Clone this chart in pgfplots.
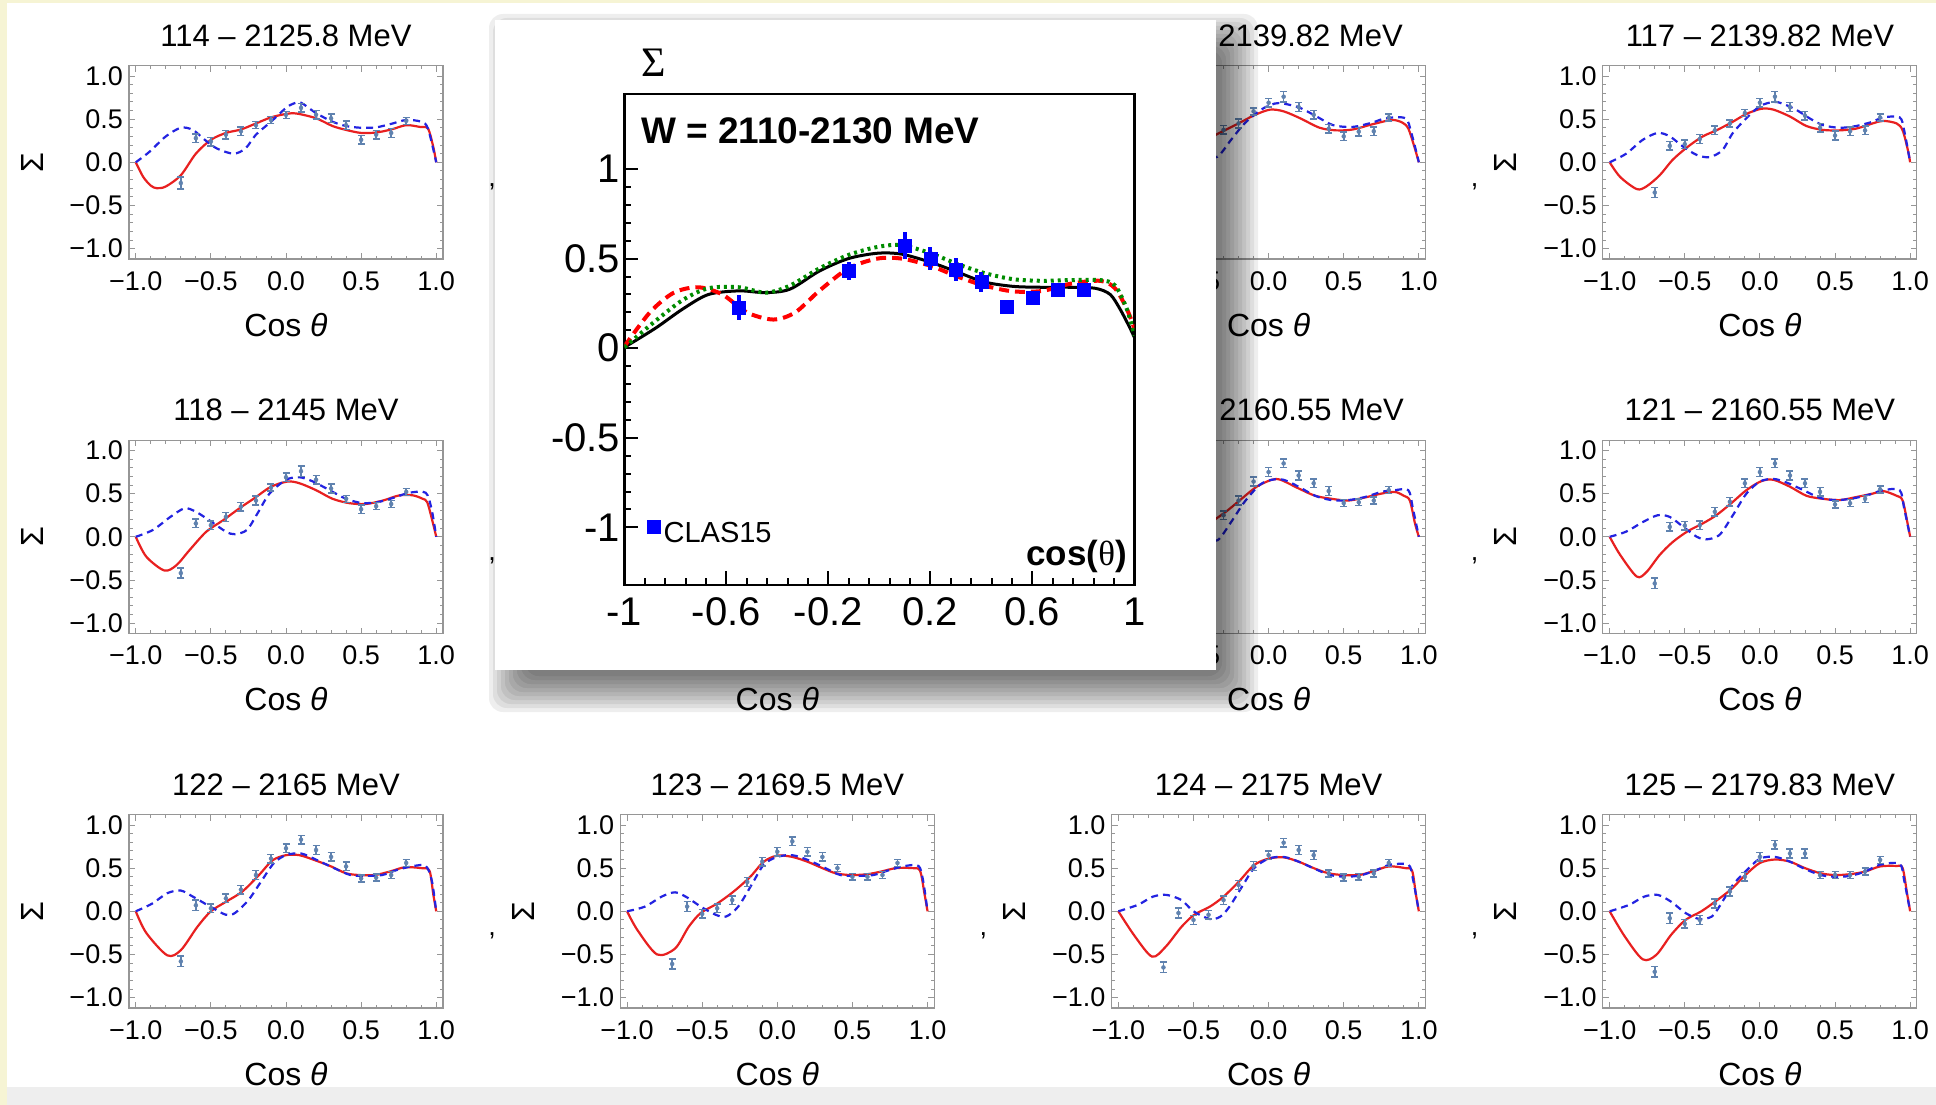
\documentclass[border=0pt]{standalone}
\usepackage{fontspec}
\setmainfont{Liberation Sans}
\newfontfamily\serif{Liberation Serif}
\usepackage{pgfplots}
\pgfplotsset{compat=1.18}
\definecolor{framegray}{RGB}{150,150,150}
\definecolor{mred}{RGB}{232,32,32}
\definecolor{mblue}{RGB}{35,35,225}
\definecolor{ptcol}{RGB}{95,130,175}
\definecolor{yel}{RGB}{246,244,212}
\definecolor{bandgray}{RGB}{238,238,238}
\definecolor{clasblue}{RGB}{0,0,255}
\definecolor{rootgreen}{RGB}{0,140,0}
\pgfplotsset{
  smallpanel/.style={
    scale only axis, width=314pt, height=193.4pt, anchor=north west,
    xmin=-1.045, xmax=1.045, ymin=-1.12, ymax=1.12,
    axis line style={draw=framegray, line width=1.1pt},
    xtick={-1,-0.5,0,0.5,1}, ytick={-1,-0.5,0,0.5,1},
    xticklabels={−1.0,−0.5,0.0,0.5,1.0},
    yticklabels={−1.0,−0.5,0.0,0.5,1.0},
    minor tick num=4, tick align=inside,
    major tick length=6pt, minor tick length=3.5pt,
    tick style={draw=framegray, line width=0.9pt},
    tick label style={font=\fontsize{27}{27}\selectfont, inner sep=0pt},
    xticklabel style={yshift=-12pt},
    yticklabel style={xshift=-6pt},
    title style={at={(axis description cs:0.5,1)}, anchor=base, yshift=13.5pt, inner sep=0pt, font=\fontsize{31}{31}\selectfont},
    xlabel={Cos \textit{θ}},
    xlabel style={at={(axis description cs:0.5,0)}, anchor=base, yshift=-77pt, inner sep=0pt, font=\fontsize{32}{32}\selectfont},
    ylabel={Σ},
    every axis y label/.style={at={(axis description cs:0,0.5)}, anchor=center, xshift=-97pt, rotate=90, inner sep=0pt, font=\fontsize{32}{32}\selectfont},
  },
  redc/.style={smooth, tension=0.5, color=mred, line width=2.2pt, mark=none},
  bluec/.style={smooth, tension=0.5, color=mblue, line width=2.2pt, dash pattern=on 7pt off 5pt, mark=none},
  pts/.style={color=ptcol, only marks, mark=none, error bars/.cd, y dir=both, y explicit, error mark=-, error bar style={draw=ptcol, line width=1.7pt, solid}, error mark options={rotate=90, draw=ptcol, line width=1.5pt, mark size=3.5pt, solid}},
}
\begin{document}
\begin{tikzpicture}
\useasboundingbox (0,0) rectangle (1936pt,-1105pt);
\fill[white] (0,0) rectangle (1936pt,-1105pt);
\fill[bandgray] (0,-1087pt) rectangle (1936pt,-1105pt);
\fill[yel] (0,0) rectangle (7pt,-1105pt);
\fill[yel] (0,0) rectangle (1936pt,-3pt);

% ---------- row 1 ----------
\begin{axis}[smallpanel, at={(129pt,-65.6pt)}, title={114 – 2125.8 MeV}]
\addplot[redc] coordinates {(-1,0) (-0.95,-0.17) (-0.9,-0.27) (-0.86,-0.30) (-0.8,-0.28) (-0.7,-0.15) (-0.6,0.10) (-0.5,0.26) (-0.4,0.34) (-0.3,0.38) (-0.2,0.45) (-0.1,0.52) (0,0.56) (0.07,0.565) (0.2,0.51) (0.31,0.42) (0.4,0.375) (0.5,0.34) (0.6,0.345) (0.7,0.38) (0.8,0.43) (0.89,0.41) (0.945,0.39) (0.98,0.18) (1,0)};
\addplot[bluec] coordinates {(-1,0) (-0.91,0.12) (-0.8,0.30) (-0.7,0.40) (-0.62,0.375) (-0.54,0.26) (-0.46,0.16) (-0.35,0.10) (-0.27,0.16) (-0.2,0.32) (-0.1,0.47) (0,0.63) (0.05,0.68) (0.1,0.69) (0.2,0.57) (0.31,0.47) (0.4,0.42) (0.5,0.40) (0.6,0.405) (0.7,0.445) (0.8,0.49) (0.9,0.47) (0.945,0.39) (1,0)};
\addplot[pts] coordinates {(-0.7,-0.24) +- (0,0.07) (-0.6,0.28) +- (0,0.05) (-0.5,0.24) +- (0,0.05) (-0.4,0.32) +- (0,0.05) (-0.3,0.36) +- (0,0.05) (-0.2,0.43) +- (0,0.04) (-0.1,0.49) +- (0,0.04) (0,0.55) +- (0,0.04) (0.1,0.63) +- (0,0.05) (0.2,0.55) +- (0,0.05) (0.3,0.51) +- (0,0.05) (0.4,0.43) +- (0,0.05) (0.5,0.26) +- (0,0.05) (0.6,0.32) +- (0,0.05) (0.7,0.34) +- (0,0.05) (0.8,0.48) +- (0,0.04)};
\end{axis}

\begin{axis}[smallpanel, at={(1111.6pt,-65.6pt)}, title={116 – 2139.82 MeV}, yticklabels={}, ylabel={}]
\addplot[redc] coordinates {(-1,0) (-0.93,-0.17) (-0.82,-0.31) (-0.756,-0.28) (-0.667,-0.15) (-0.58,0.03) (-0.48,0.18) (-0.4,0.28) (-0.35,0.32) (-0.19,0.46) (-0.09,0.55) (0.01,0.61) (0.1,0.59) (0.21,0.51) (0.34,0.40) (0.45,0.37) (0.56,0.38) (0.69,0.44) (0.82,0.49) (0.89,0.46) (0.93,0.39) (0.97,0.18) (1,0)};
\addplot[bluec] coordinates {(-1,0) (-0.89,0.10) (-0.78,0.26) (-0.68,0.34) (-0.6,0.30) (-0.51,0.18) (-0.42,0.085) (-0.34,0.065) (-0.25,0.26) (-0.16,0.45) (-0.05,0.61) (0.04,0.68) (0.1,0.68) (0.21,0.63) (0.32,0.53) (0.43,0.43) (0.56,0.41) (0.69,0.46) (0.78,0.51) (0.91,0.51) (0.95,0.34) (1,0)};
\addplot[pts] coordinates {(-0.7,-0.35) +- (0,0.06) (-0.6,0.19) +- (0,0.05) (-0.5,0.21) +- (0,0.05) (-0.4,0.27) +- (0,0.05) (-0.3,0.375) +- (0,0.05) (-0.2,0.45) +- (0,0.05) (-0.1,0.59) +- (0,0.04) (0,0.69) +- (0,0.05) (0.1,0.76) +- (0,0.06) (0.2,0.64) +- (0,0.05) (0.3,0.55) +- (0,0.05) (0.4,0.39) +- (0,0.05) (0.5,0.30) +- (0,0.05) (0.6,0.355) +- (0,0.05) (0.7,0.36) +- (0,0.05) (0.8,0.52) +- (0,0.04)};
\end{axis}

\begin{axis}[smallpanel, at={(1602.9pt,-65.6pt)}, title={117 – 2139.82 MeV}]
\addplot[redc] coordinates {(-1,0) (-0.93,-0.17) (-0.82,-0.31) (-0.756,-0.28) (-0.667,-0.15) (-0.58,0.03) (-0.48,0.18) (-0.38,0.30) (-0.29,0.37) (-0.19,0.46) (-0.09,0.56) (0.01,0.62) (0.09,0.61) (0.2,0.53) (0.31,0.42) (0.42,0.375) (0.53,0.37) (0.64,0.39) (0.75,0.45) (0.82,0.48) (0.91,0.45) (0.95,0.37) (0.985,0.14) (1,0)};
\addplot[bluec] coordinates {(-1,0) (-0.89,0.10) (-0.78,0.26) (-0.68,0.34) (-0.6,0.30) (-0.51,0.18) (-0.42,0.085) (-0.335,0.06) (-0.25,0.14) (-0.18,0.34) (-0.09,0.51) (0,0.65) (0.09,0.70) (0.15,0.68) (0.24,0.61) (0.33,0.51) (0.42,0.43) (0.53,0.40) (0.64,0.42) (0.75,0.47) (0.82,0.52) (0.93,0.52) (0.96,0.37) (1,0)};
\addplot[pts] coordinates {(-0.7,-0.35) +- (0,0.06) (-0.6,0.19) +- (0,0.05) (-0.5,0.21) +- (0,0.05) (-0.4,0.27) +- (0,0.05) (-0.3,0.37) +- (0,0.05) (-0.2,0.45) +- (0,0.04) (-0.1,0.57) +- (0,0.04) (0,0.69) +- (0,0.05) (0.1,0.76) +- (0,0.06) (0.2,0.64) +- (0,0.05) (0.3,0.54) +- (0,0.05) (0.4,0.40) +- (0,0.05) (0.5,0.31) +- (0,0.05) (0.6,0.36) +- (0,0.05) (0.7,0.37) +- (0,0.05) (0.8,0.52) +- (0,0.04)};
\end{axis}

% ---------- row 2 ----------
\begin{axis}[smallpanel, at={(129pt,-440.1pt)}, title={118 – 2145 MeV}]
\addplot[redc] coordinates {(-1,0) (-0.93,-0.23) (-0.81,-0.39) (-0.73,-0.33) (-0.64,-0.15) (-0.53,0.06) (-0.42,0.19) (-0.31,0.33) (-0.2,0.46) (-0.1,0.58) (0.01,0.64) (0.09,0.62) (0.2,0.54) (0.31,0.44) (0.42,0.39) (0.53,0.38) (0.645,0.42) (0.755,0.48) (0.845,0.48) (0.91,0.44) (0.94,0.40) (0.975,0.18) (1,0)};
\addplot[bluec] coordinates {(-1,0) (-0.885,0.08) (-0.77,0.23) (-0.675,0.33) (-0.6,0.29) (-0.51,0.19) (-0.4,0.06) (-0.34,0.03) (-0.26,0.08) (-0.19,0.27) (-0.11,0.50) (0,0.66) (0.09,0.69) (0.18,0.64) (0.29,0.54) (0.4,0.44) (0.51,0.39) (0.62,0.405) (0.73,0.46) (0.82,0.51) (0.93,0.51) (0.97,0.31) (1,0)};
\addplot[pts] coordinates {(-0.7,-0.42) +- (0,0.06) (-0.6,0.155) +- (0,0.05) (-0.5,0.135) +- (0,0.05) (-0.4,0.23) +- (0,0.05) (-0.3,0.35) +- (0,0.05) (-0.2,0.42) +- (0,0.05) (-0.1,0.57) +- (0,0.04) (0,0.69) +- (0,0.05) (0.1,0.76) +- (0,0.06) (0.2,0.66) +- (0,0.05) (0.3,0.56) +- (0,0.05) (0.4,0.44) +- (0,0.04) (0.5,0.32) +- (0,0.05) (0.6,0.355) +- (0,0.04) (0.7,0.38) +- (0,0.04) (0.8,0.52) +- (0,0.04)};
\end{axis}

\begin{axis}[smallpanel, at={(1111.6pt,-440.1pt)}, title={120 – 2160.55 MeV}, yticklabels={}, ylabel={}]
\addplot[redc] coordinates {(-1,0) (-0.93,-0.21) (-0.82,-0.46) (-0.756,-0.41) (-0.667,-0.21) (-0.58,-0.06) (-0.48,0.065) (-0.35,0.21) (-0.27,0.31) (-0.18,0.44) (-0.08,0.58) (0.02,0.66) (0.08,0.66) (0.2,0.56) (0.31,0.475) (0.42,0.44) (0.53,0.42) (0.64,0.455) (0.75,0.50) (0.84,0.52) (0.9,0.475) (0.94,0.42) (0.975,0.15) (1,0)};
\addplot[bluec] coordinates {(-1,0) (-0.89,0.06) (-0.78,0.17) (-0.68,0.25) (-0.6,0.23) (-0.51,0.115) (-0.42,0) (-0.34,-0.04) (-0.25,0.17) (-0.16,0.405) (-0.06,0.6) (0.02,0.66) (0.1,0.66) (0.2,0.58) (0.31,0.475) (0.42,0.425) (0.53,0.425) (0.64,0.46) (0.75,0.52) (0.84,0.54) (0.93,0.54) (0.96,0.33) (1,0)};
\addplot[pts] coordinates {(-0.7,-0.54) +- (0,0.06) (-0.6,0.115) +- (0,0.05) (-0.5,0.13) +- (0,0.05) (-0.4,0.135) +- (0,0.05) (-0.3,0.25) +- (0,0.05) (-0.2,0.42) +- (0,0.05) (-0.1,0.64) +- (0,0.05) (0,0.75) +- (0,0.05) (0.1,0.85) +- (0,0.05) (0.2,0.71) +- (0,0.05) (0.3,0.62) +- (0,0.05) (0.4,0.53) +- (0,0.05) (0.5,0.39) +- (0,0.04) (0.6,0.40) +- (0,0.04) (0.7,0.42) +- (0,0.04) (0.8,0.54) +- (0,0.04)};
\end{axis}

\begin{axis}[smallpanel, at={(1602.9pt,-440.1pt)}, title={121 – 2160.55 MeV}]
\addplot[redc] coordinates {(-1,0) (-0.93,-0.21) (-0.82,-0.46) (-0.756,-0.41) (-0.667,-0.21) (-0.58,-0.06) (-0.48,0.065) (-0.38,0.155) (-0.29,0.25) (-0.19,0.39) (-0.09,0.54) (0.01,0.645) (0.09,0.66) (0.2,0.58) (0.31,0.475) (0.42,0.44) (0.53,0.425) (0.64,0.46) (0.75,0.50) (0.82,0.53) (0.91,0.475) (0.95,0.42) (0.985,0.135) (1,0)};
\addplot[bluec] coordinates {(-1,0) (-0.89,0.06) (-0.78,0.17) (-0.68,0.25) (-0.6,0.23) (-0.51,0.115) (-0.42,0) (-0.36,-0.03) (-0.27,0.02) (-0.18,0.25) (-0.09,0.50) (0,0.64) (0.09,0.67) (0.175,0.63) (0.29,0.54) (0.4,0.45) (0.51,0.425) (0.62,0.445) (0.73,0.49) (0.82,0.54) (0.93,0.54) (0.96,0.33) (1,0)};
\addplot[pts] coordinates {(-0.7,-0.54) +- (0,0.06) (-0.6,0.115) +- (0,0.05) (-0.5,0.13) +- (0,0.05) (-0.4,0.135) +- (0,0.05) (-0.3,0.29) +- (0,0.05) (-0.2,0.405) +- (0,0.05) (-0.1,0.62) +- (0,0.05) (0,0.75) +- (0,0.05) (0.1,0.85) +- (0,0.05) (0.2,0.71) +- (0,0.05) (0.3,0.62) +- (0,0.05) (0.4,0.52) +- (0,0.05) (0.5,0.375) +- (0,0.04) (0.6,0.39) +- (0,0.04) (0.7,0.44) +- (0,0.04) (0.8,0.55) +- (0,0.04)};
\end{axis}

% ---------- row 3 ----------
\begin{axis}[smallpanel, at={(129pt,-814.6pt)}, title={122 – 2165 MeV}]
\addplot[redc] coordinates {(-1,0) (-0.93,-0.25) (-0.79,-0.51) (-0.70,-0.45) (-0.59,-0.18) (-0.50,0) (-0.40,0.11) (-0.29,0.23) (-0.18,0.42) (-0.09,0.59) (0,0.65) (0.09,0.65) (0.195,0.59) (0.3,0.52) (0.4,0.44) (0.49,0.42) (0.59,0.42) (0.69,0.46) (0.79,0.51) (0.9,0.50) (0.955,0.47) (0.98,0.2) (1,0)};
\addplot[bluec] coordinates {(-1,0) (-0.89,0.09) (-0.79,0.21) (-0.7,0.24) (-0.62,0.17) (-0.5,0.05) (-0.4,-0.04) (-0.34,-0.02) (-0.25,0.13) (-0.16,0.36) (-0.08,0.56) (0,0.65) (0.1,0.67) (0.21,0.59) (0.32,0.50) (0.43,0.42) (0.53,0.41) (0.64,0.42) (0.74,0.48) (0.85,0.525) (0.93,0.525) (0.97,0.36) (1,0)};
\addplot[pts] coordinates {(-0.7,-0.58) +- (0,0.06) (-0.6,0.07) +- (0,0.06) (-0.5,0.035) +- (0,0.05) (-0.4,0.15) +- (0,0.05) (-0.3,0.25) +- (0,0.05) (-0.2,0.42) +- (0,0.05) (-0.1,0.61) +- (0,0.05) (0,0.73) +- (0,0.05) (0.1,0.83) +- (0,0.05) (0.2,0.71) +- (0,0.05) (0.3,0.63) +- (0,0.05) (0.4,0.52) +- (0,0.05) (0.5,0.38) +- (0,0.04) (0.6,0.39) +- (0,0.04) (0.7,0.42) +- (0,0.04) (0.8,0.56) +- (0,0.04)};
\end{axis}

\begin{axis}[smallpanel, at={(620.3pt,-814.6pt)}, title={123 – 2169.5 MeV}]
\addplot[redc] coordinates {(-1,0) (-0.93,-0.22) (-0.80,-0.50) (-0.68,-0.43) (-0.59,-0.18) (-0.51,-0.02) (-0.40,0.09) (-0.29,0.23) (-0.18,0.40) (-0.09,0.575) (0,0.645) (0.1,0.63) (0.2,0.575) (0.3,0.50) (0.39,0.44) (0.49,0.42) (0.6,0.43) (0.69,0.46) (0.79,0.50) (0.9,0.50) (0.95,0.47) (0.98,0.2) (1,0)};
\addplot[bluec] coordinates {(-1,0) (-0.88,0.055) (-0.77,0.17) (-0.68,0.22) (-0.6,0.16) (-0.51,0.055) (-0.41,-0.04) (-0.34,-0.06) (-0.26,0.055) (-0.17,0.31) (-0.09,0.54) (0,0.63) (0.1,0.65) (0.21,0.59) (0.32,0.50) (0.42,0.42) (0.53,0.41) (0.64,0.42) (0.75,0.48) (0.85,0.525) (0.94,0.525) (0.97,0.36) (1,0)};
\addplot[pts] coordinates {(-0.7,-0.61) +- (0,0.06) (-0.6,0.055) +- (0,0.06) (-0.5,-0.03) +- (0,0.05) (-0.4,0.035) +- (0,0.05) (-0.3,0.13) +- (0,0.05) (-0.2,0.34) +- (0,0.05) (-0.1,0.575) +- (0,0.05) (0,0.69) +- (0,0.05) (0.1,0.81) +- (0,0.05) (0.2,0.69) +- (0,0.05) (0.3,0.63) +- (0,0.05) (0.4,0.50) +- (0,0.04) (0.5,0.40) +- (0,0.04) (0.6,0.40) +- (0,0.04) (0.7,0.42) +- (0,0.04) (0.8,0.56) +- (0,0.04)};
\end{axis}

\begin{axis}[smallpanel, at={(1111.6pt,-814.6pt)}, title={124 – 2175 MeV}]
\addplot[redc] coordinates {(-1,0) (-0.89,-0.29) (-0.775,-0.525) (-0.685,-0.41) (-0.58,-0.18) (-0.495,-0.04) (-0.39,0.055) (-0.30,0.17) (-0.2,0.34) (-0.097,0.535) (0,0.61) (0.1,0.625) (0.2,0.575) (0.3,0.50) (0.4,0.44) (0.5,0.42) (0.6,0.42) (0.69,0.46) (0.8,0.52) (0.91,0.50) (0.955,0.47) (0.98,0.2) (1,0)};
\addplot[bluec] coordinates {(-1,0) (-0.87,0.075) (-0.77,0.17) (-0.68,0.19) (-0.58,0.13) (-0.5,0) (-0.39,-0.09) (-0.32,-0.06) (-0.26,0.055) (-0.17,0.305) (-0.097,0.50) (0,0.61) (0.1,0.63) (0.2,0.575) (0.31,0.49) (0.41,0.42) (0.52,0.40) (0.62,0.42) (0.72,0.48) (0.81,0.54) (0.93,0.54) (0.96,0.38) (1,0)};
\addplot[pts] coordinates {(-0.7,-0.65) +- (0,0.06) (-0.6,-0.02) +- (0,0.06) (-0.5,-0.10) +- (0,0.05) (-0.4,-0.04) +- (0,0.05) (-0.3,0.13) +- (0,0.05) (-0.2,0.305) +- (0,0.05) (-0.1,0.525) +- (0,0.05) (0,0.65) +- (0,0.05) (0.1,0.795) +- (0,0.05) (0.2,0.71) +- (0,0.05) (0.3,0.65) +- (0,0.05) (0.4,0.44) +- (0,0.04) (0.5,0.39) +- (0,0.04) (0.6,0.40) +- (0,0.04) (0.7,0.44) +- (0,0.04) (0.8,0.56) +- (0,0.04)};
\end{axis}

\begin{axis}[smallpanel, at={(1602.9pt,-814.6pt)}, title={125 – 2179.83 MeV}]
\addplot[redc] coordinates {(-1,0) (-0.90,-0.29) (-0.78,-0.556) (-0.69,-0.505) (-0.59,-0.27) (-0.495,-0.10) (-0.39,0) (-0.30,0.11) (-0.195,0.25) (-0.097,0.42) (0,0.56) (0.1,0.60) (0.2,0.575) (0.3,0.50) (0.405,0.44) (0.5,0.42) (0.6,0.43) (0.7,0.46) (0.8,0.52) (0.91,0.525) (0.95,0.50) (0.98,0.2) (1,0)};
\addplot[bluec] coordinates {(-1,0) (-0.87,0.075) (-0.77,0.17) (-0.68,0.19) (-0.59,0.11) (-0.495,-0.02) (-0.40,-0.09) (-0.32,-0.06) (-0.27,0.055) (-0.18,0.305) (-0.097,0.46) (0,0.61) (0.1,0.63) (0.2,0.575) (0.3,0.49) (0.405,0.42) (0.5,0.40) (0.6,0.41) (0.7,0.46) (0.8,0.54) (0.93,0.55) (0.96,0.36) (1,0)};
\addplot[pts] coordinates {(-0.7,-0.70) +- (0,0.06) (-0.6,-0.08) +- (0,0.06) (-0.5,-0.145) +- (0,0.05) (-0.4,-0.10) +- (0,0.05) (-0.3,0.09) +- (0,0.05) (-0.2,0.23) +- (0,0.05) (-0.1,0.40) +- (0,0.05) (0,0.63) +- (0,0.05) (0.1,0.77) +- (0,0.05) (0.2,0.67) +- (0,0.05) (0.3,0.67) +- (0,0.05) (0.4,0.42) +- (0,0.04) (0.5,0.42) +- (0,0.04) (0.6,0.42) +- (0,0.04) (0.7,0.46) +- (0,0.04) (0.8,0.595) +- (0,0.04)};
\end{axis}

% commas between list entries (the visible ones)
\foreach \cx/\cy in {492/186, 1474.6/186, 492/560.5, 1474.6/560.5, 492/935, 983.3/935, 1474.6/935}{
  \node[anchor=base, inner sep=0pt, font=\fontsize{27}{27}\selectfont] at (\cx pt,-\cy pt) {,};
}
% x label of the hidden panel 119
\node[anchor=base, inner sep=0pt, font=\fontsize{32}{32}\selectfont] at (777.3pt,-710.5pt) {Cos \textit{θ}};

% ---------- shadow and inset box ----------
\foreach \r in {-12,-8,-4,0,4,8,12,16,20,24}{
  \fill[black, opacity=0.065, rounded corners=14pt] ({(513-\r)*1pt},{-(38-\r)*1pt}) rectangle ({(1234+\r)*1pt},{-(688+\r)*1pt});
}
\fill[white] (495pt,-20pt) rectangle (1216pt,-670pt);

\begin{axis}[at={(624.4pt,-93.75pt)}, anchor=north west, scale only axis, width=510pt, height=491pt,
  xmin=-1, xmax=1, ymin=-1.32, ymax=1.42,
  axis line style={draw=black, line width=2.4pt},
  xtick={-1,-0.6,-0.2,0.2,0.6,1}, xticklabels={-1,-0.6,-0.2,0.2,0.6,1},
  ytick={-1,-0.5,0,0.5,1}, yticklabels={-1,-0.5,0,0.5,1},
  minor x tick num=4, minor y tick num=4,
  xtick pos=left, ytick pos=left, tick align=inside,
  major tick length=14pt, minor tick length=7pt,
  tick style={draw=black, line width=2pt},
  tick label style={font=\fontsize{40}{40}\selectfont, inner sep=0pt},
  xticklabel style={yshift=-13pt}, yticklabel style={xshift=-4pt},
  legend style={draw=none, fill=none, at={(axis description cs:0.0443,0.1075)}, anchor=west, font=\fontsize{29}{29}\selectfont, inner sep=0pt, column sep=3pt, nodes={inner sep=0pt}},
  legend image code/.code={\fill[clasblue] (0pt,-1pt) rectangle (13pt,12pt);},
]
\addplot[forget plot, color=black, line width=3pt, smooth, mark=none] coordinates {(-1,0.005) (-0.88,0.11) (-0.77,0.22) (-0.67,0.30) (-0.55,0.32) (-0.445,0.31) (-0.35,0.33) (-0.236,0.43) (-0.122,0.50) (-0.008,0.53) (0.087,0.525) (0.2,0.48) (0.306,0.425) (0.41,0.37) (0.525,0.345) (0.64,0.34) (0.75,0.34) (0.848,0.334) (0.905,0.30) (0.943,0.22) (0.98,0.12) (1.0,0.06)};
\addplot[forget plot, color=red, line width=4pt, smooth, mark=none, dash pattern=on 10pt off 6pt] coordinates {(-1,0.01) (-0.9,0.20) (-0.806,0.31) (-0.71,0.34) (-0.616,0.30) (-0.52,0.20) (-0.416,0.16) (-0.33,0.20) (-0.236,0.32) (-0.122,0.445) (-0.008,0.50) (0.087,0.50) (0.2,0.46) (0.306,0.40) (0.41,0.35) (0.525,0.317) (0.64,0.32) (0.75,0.36) (0.867,0.376) (0.924,0.334) (0.97,0.22) (1.0,0.11)};
\addplot[forget plot, color=rootgreen, line width=4pt, smooth, mark=none, dash pattern=on 3pt off 4pt] coordinates {(-1,0.005) (-0.88,0.15) (-0.77,0.27) (-0.67,0.335) (-0.55,0.34) (-0.445,0.31) (-0.35,0.35) (-0.236,0.445) (-0.122,0.52) (-0.008,0.565) (0.087,0.575) (0.2,0.53) (0.306,0.47) (0.41,0.42) (0.525,0.385) (0.64,0.376) (0.75,0.38) (0.867,0.38) (0.924,0.35) (0.97,0.22) (1.0,0.07)};
\addplot[only marks, mark=square*, mark size=6.5pt, color=clasblue, error bars/.cd, y dir=both, y explicit, error bar style={line width=4pt, draw=clasblue}, error mark=none] coordinates {(-0.55,0.228) +- (0,0.07) (-0.12,0.433) +- (0,0.05) (0.10,0.574) +- (0,0.075) (0.20,0.50) +- (0,0.065) (0.30,0.438) +- (0,0.065) (0.40,0.371) +- (0,0.055) (0.50,0.233) +- (0,0.03) (0.60,0.28) +- (0,0.03) (0.70,0.327) +- (0,0.03) (0.80,0.327) +- (0,0.03)};
\addlegendentry{CLAS15}
\end{axis}
\node[anchor=base west, inner sep=0pt, font=\bfseries\fontsize{37}{37}\selectfont] at (641pt,-143pt) {W = 2110-2130 MeV};
\node[anchor=base east, inner sep=0pt, font=\bfseries\fontsize{35}{35}\selectfont] at (1127pt,-565pt) {cos({\serif\mdseries θ})};
\node[inner sep=0pt, font=\serif\fontsize{42}{42}\selectfont] at (653.5pt,-62.5pt) {Σ};
\end{tikzpicture}
\end{document}
